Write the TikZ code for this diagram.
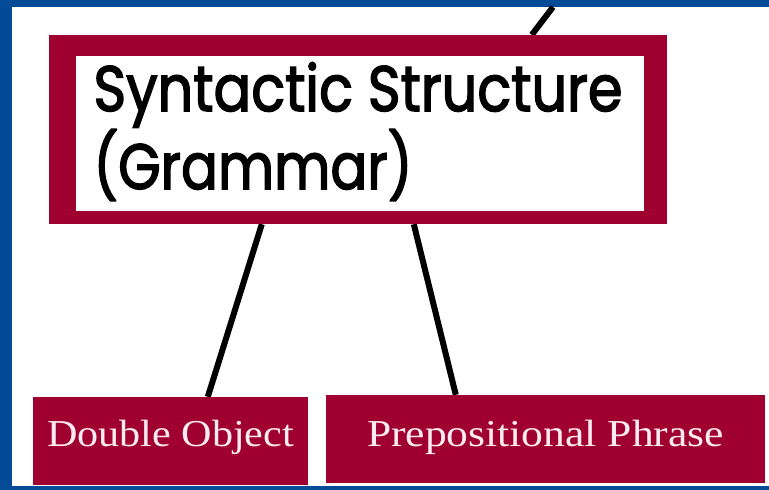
\documentclass[tikz,border=0pt]{standalone}
\usepackage{fontspec}
\usetikzlibrary{calc,backgrounds}
\newfontfamily\synfont{Poppins}[FakeBold=2.5]
\newfontfamily\serfont{Liberation Serif}
\definecolor{bgblue}{RGB}{3,75,150}
\definecolor{crimson}{RGB}{160,0,48}
\definecolor{paletext}{RGB}{255,236,242}
\tikzset{
  leafbox/.style={rectangle, fill=crimson, inner sep=0pt, minimum height=88pt,
    text=paletext, font=\serfont\fontsize{38}{40}\selectfont},
  link/.style={line width=6pt, black}
}
\begin{document}
\begin{tikzpicture}[x=1pt,y=-1pt]
\useasboundingbox (0,0) rectangle (769,490);
\node[rectangle, fill=crimson, inner sep=0pt, minimum width=618pt, minimum height=189pt,
  align=left, font=\synfont\fontsize{64}{78}\selectfont,
  path picture={\fill[white] ([xshift=27pt,yshift=-21pt]path picture bounding box.north west)
     rectangle ([xshift=-23pt,yshift=13pt]path picture bounding box.south east);}]
  (syn) at (358,129.5) {\smash{\resizebox{529pt}{\height}{Syntactic Structure}}\rule[-10pt]{0pt}{60pt}\\
    \smash{\resizebox{319pt}{\height}{(Grammar)}}\rule[-9pt]{0pt}{59pt}\hspace*{210pt}};
\node[leafbox, minimum width=275pt, text height=25pt, text depth=14pt] (do) at (170.5,441)
  {\resizebox{247pt}{\height}{Double Object}};
\node[leafbox, minimum width=439pt, text height=27pt, text depth=12pt] (pp) at (545.5,439)
  {\resizebox{357pt}{\height}{Prepositional Phrase}};
\coordinate (up) at (553,7);
\begin{scope}[on background layer]
\fill[bgblue] (0,0) rectangle (769,490);
\fill[white] (12,7) rectangle (769,486);
\draw[link] (up) -- ($(syn.north west)+(483,0)$);
\draw[link] ($(syn.south west)+(213,0)$) -- ($(do.north west)+(175,0)$);
\draw[link] ($(syn.south west)+(365,0)$) -- ($(pp.north west)+(130,0)$);
\end{scope}
\end{tikzpicture}
\end{document}
